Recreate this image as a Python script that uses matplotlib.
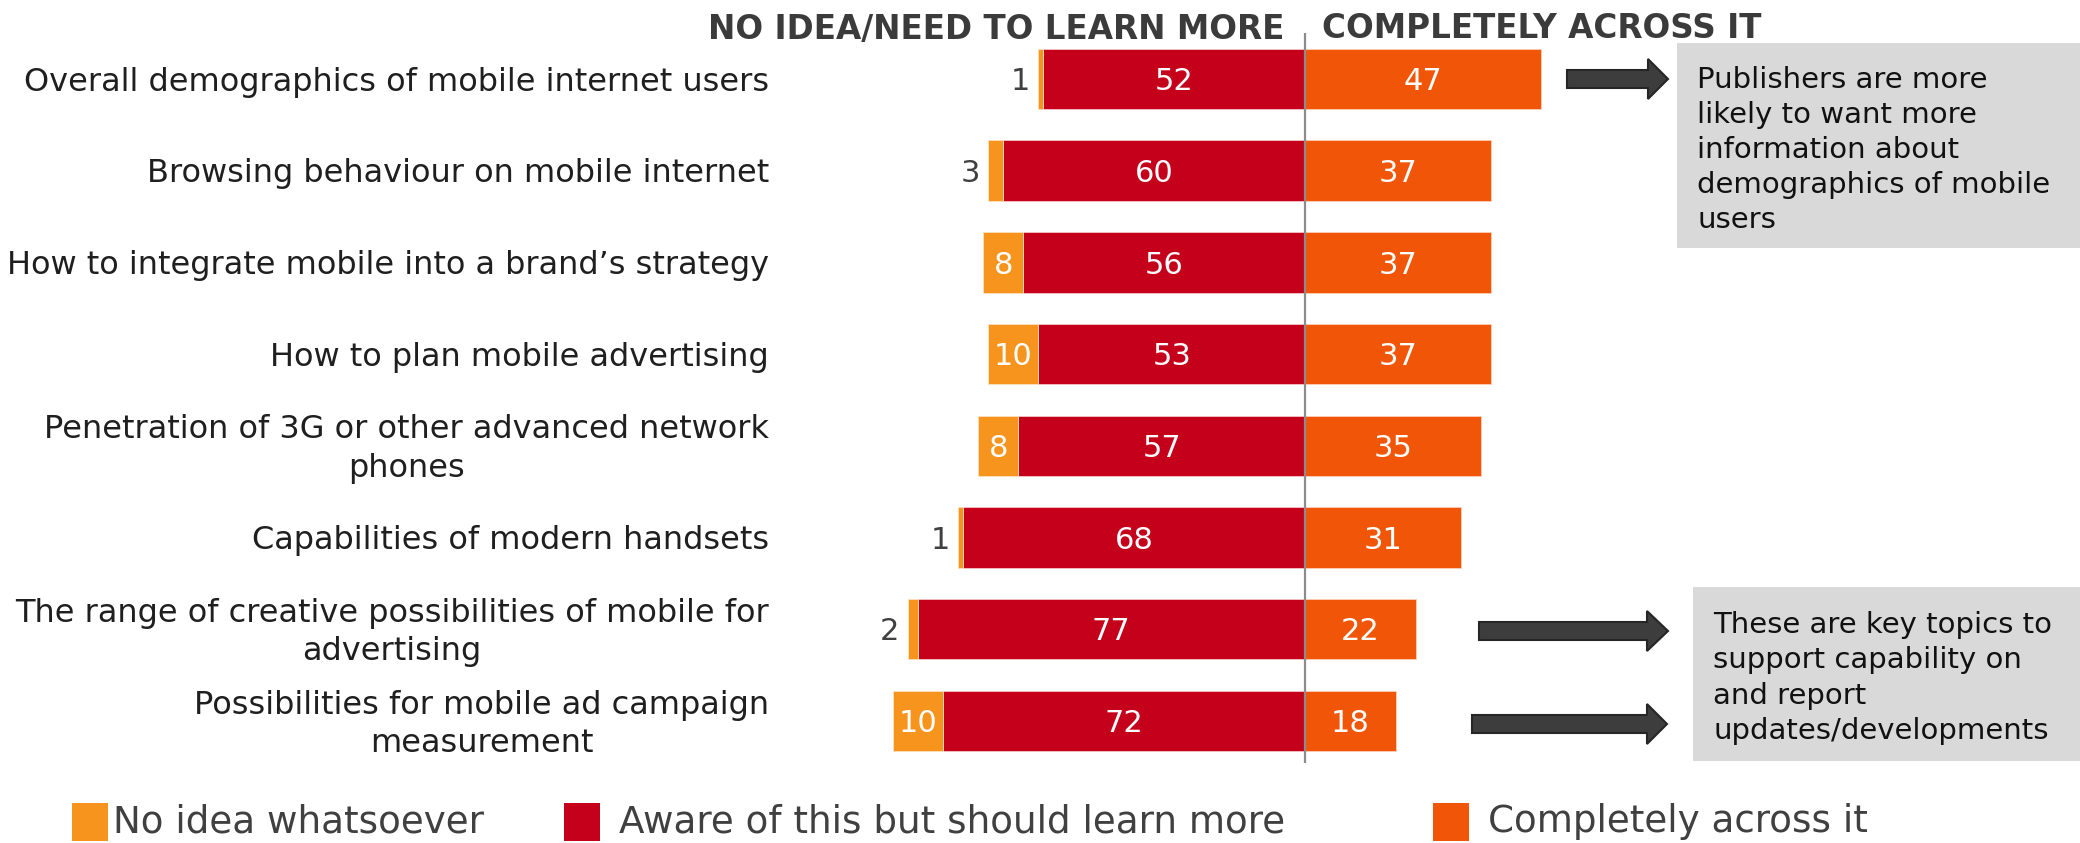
import numpy as np
import matplotlib.pyplot as plt
from matplotlib.patches import Rectangle, Polygon
from matplotlib.transforms import Affine2D, blended_transform_factory

plt.rcParams['font.family'] = ['DejaVu Sans']

topics = [
    "Overall demographics of mobile internet users",
    "Browsing behaviour on mobile internet",
    "How to integrate mobile into a brand\u2019s strategy",
    "How to plan mobile advertising",
    "Penetration of 3G or other advanced network\nphones",
    "Capabilities of modern handsets",
    "The range of creative possibilities of mobile for\nadvertising",
    "Possibilities for mobile ad campaign\nmeasurement",
]
no_idea = [1, 3, 8, 10, 8, 1, 2, 10]
aware = [52, 60, 56, 53, 57, 68, 77, 72]
across = [47, 37, 37, 37, 35, 31, 22, 18]

series_names = ["No idea whatsoever", "Aware of this but should learn more", "Completely across it"]
c_noidea, c_aware, c_across = "#F7941E", "#C4001A", "#F15508"

W, H = 2080, 843
fig = plt.figure(figsize=(W / 100, H / 100), dpi=100)
ax = fig.add_axes([0, 0, 1, 1])

# pixel-style coordinates, origin top-left
px = Affine2D().scale(1 / W, -1 / H).translate(0, 1) + fig.transFigure

# axis scale: zero line at x=1305px, 5.03 px per point; rows 91.7px apart from y=79px
x0, sx = 1305, 5.03
y0, sy = 79, 91.7
ax.set_xlim(-x0 / sx, (W - x0) / sx)
ax.set_ylim((H - y0) / sy, -y0 / sy)
ax.axis('off')

y = np.arange(len(topics))
bh = 0.66
neg_aware = -np.array(aware)
neg_noidea = -np.array(no_idea)
ax.barh(y, neg_aware, height=bh, color=c_aware, edgecolor='#f3c6c6', linewidth=0.6)
ax.barh(y, neg_noidea, left=neg_aware, height=bh, color=c_noidea, edgecolor='#fbe0c0', linewidth=0.6)
ax.barh(y, across, height=bh, color=c_across, edgecolor='#fbd0b8', linewidth=0.6)

ax.vlines(0, -0.5, 7.46, color='#8c8c8c', linewidth=1.6, zorder=3)

val_fs = 22
dy = 0.03  # nudge text to sit on the bar centre
for i in range(len(topics)):
    yt = i + dy
    ax.text(-aware[i] / 2, yt, str(aware[i]), color='white', fontsize=val_fs, ha='center', va='center')
    ax.text(across[i] / 2, yt, str(across[i]), color='white', fontsize=val_fs, ha='center', va='center')
    if no_idea[i] >= 5:
        ax.text(-aware[i] - no_idea[i] / 2, yt, str(no_idea[i]), color='white',
                fontsize=val_fs, ha='center', va='center')
    else:
        ax.annotate(str(no_idea[i]), (-aware[i] - no_idea[i], yt), xytext=(-6, 0),
                    textcoords='offset points', color='#404040', fontsize=val_fs,
                    ha='right', va='center')

# category labels, right-aligned at a fixed x
lab_tr = blended_transform_factory(fig.transFigure, ax.transData)
for i, t in enumerate(topics):
    ax.text(769 / W, i + 0.035, t, transform=lab_tr, ha='right', va='center', multialignment='center',
            fontsize=23, color='#1f1f1f', linespacing=1.3)

# column headers
fig.text(1284, 29, "NO IDEA/NEED TO LEARN MORE", transform=px, ha='right', va='center',
         fontsize=23.5, fontweight='bold', color='#3b3b3b')
fig.text(1322, 29, "COMPLETELY ACROSS IT", transform=px, ha='left', va='center',
         fontsize=23.5, fontweight='bold', color='#3b3b3b')


def block_arrow(xs, xh, xt, yc, shaft=9, head=20):
    pts = [(xs, yc - shaft), (xh, yc - shaft), (xh, yc - head), (xt, yc),
           (xh, yc + head), (xh, yc + shaft), (xs, yc + shaft)]
    fig.patches.append(Polygon(pts, closed=True, transform=px, facecolor='#3d3d3d',
                               edgecolor='#262626', linewidth=1.5))


block_arrow(1567, 1648, 1668, 79)
block_arrow(1479, 1647, 1668, 631)
block_arrow(1472, 1647, 1667, 724)

# callout boxes
fig.patches.append(Rectangle((1677, 43), W - 1677, 205, transform=px, facecolor='#d9d9d9', edgecolor='none'))
fig.text(1697, 150, "Publishers are more\nlikely to want more\ninformation about\ndemographics of mobile\nusers",
         transform=px, ha='left', va='center', fontsize=21, color='#111111', linespacing=1.32)
fig.patches.append(Rectangle((1693, 587), W - 1693, 174, transform=px, facecolor='#d9d9d9', edgecolor='none'))
fig.text(1713, 678, "These are key topics to\nsupport capability on\nand report\nupdates/developments",
         transform=px, ha='left', va='center', fontsize=21, color='#111111', linespacing=1.32)

# legend
leg_sq = [72, 564, 1433]
leg_tx = [113, 619, 1488]
for sx_, tx_, name, col in zip(leg_sq, leg_tx, series_names, [c_noidea, c_aware, c_across]):
    fig.patches.append(Rectangle((sx_, 803), 36, 38, transform=px, facecolor=col, edgecolor='none'))
    fig.text(tx_, 822, name, transform=px, ha='left', va='center', fontsize=26.8, color='#404040')

fig.savefig('out.png', dpi=100)
